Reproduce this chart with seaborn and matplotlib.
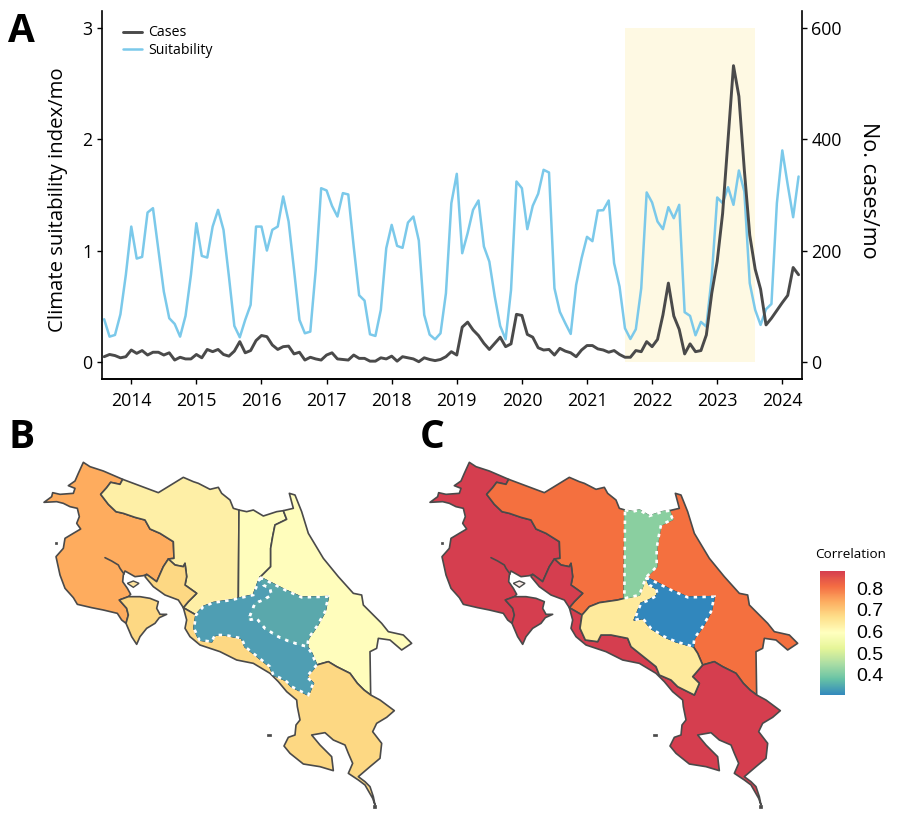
"""Climate suitability and cases time series with two choropleth panels"""
import matplotlib
matplotlib.use("Agg")
import matplotlib.pyplot as plt
import pandas as pd
import seaborn as sns
from matplotlib.cm import ScalarMappable
from matplotlib.colors import Normalize
from matplotlib.patches import Polygon

# monthly series, Aug 2013 - Apr 2024
dates = pd.date_range("2013-08-01", "2024-04-01", freq="MS")
suitability = [
    0.386, 0.23, 0.245, 0.43, 0.784, 1.217, 0.93, 0.945, 1.343, 1.382, 1.008, 0.634,
    0.395, 0.344, 0.23, 0.416, 0.784, 1.247, 0.954, 0.939, 1.217, 1.367, 1.188, 0.769,
    0.326, 0.224, 0.38, 0.515, 1.217, 1.217, 1.002, 1.188, 1.217, 1.487, 1.262, 0.829,
    0.38, 0.26, 0.275, 0.829, 1.561, 1.541, 1.403, 1.307, 1.517, 1.505, 1.038, 0.601,
    0.553, 0.251, 0.236, 0.47, 1.023, 1.232, 1.044, 1.026, 1.253, 1.307, 1.092, 0.425,
    0.248, 0.206, 0.26, 0.619, 1.427, 1.69, 0.978, 1.158, 1.367, 1.451, 1.038, 0.903,
    0.589, 0.326, 0.206, 0.649, 1.621, 1.561, 1.194, 1.403, 1.511, 1.726, 1.702, 0.664,
    0.452, 0.35, 0.254, 0.694, 0.933, 1.125, 1.086, 1.361, 1.364, 1.451, 0.888, 0.679,
    0.305, 0.209, 0.296, 0.664, 1.523, 1.433, 1.262, 1.194, 1.391, 1.292, 1.412, 0.449,
    0.416, 0.242, 0.362, 0.32, 0.769, 1.478, 1.427, 1.57, 1.412, 1.72, 1.532, 0.709,
    0.47, 0.335, 0.476, 0.523, 1.427, 1.9, 1.591, 1.301, 1.666,
]
cases = [
    10, 14, 12, 8, 10, 22, 16, 21, 13, 18, 18, 13,
    17, 4, 9, 6, 6, 14, 8, 23, 19, 23, 14, 11,
    20, 37, 17, 21, 39, 48, 46, 31, 23, 28, 29, 15,
    18, 4, 9, 6, 4, 13, 17, 6, 5, 4, 13, 7,
    7, 2, 2, 8, 6, 11, 2, 10, 8, 6, 1, 8,
    5, 3, 5, 10, 19, 13, 63, 72, 58, 48, 34, 23,
    34, 45, 28, 33, 86, 84, 50, 45, 26, 22, 23, 13,
    25, 20, 17, 10, 22, 30, 30, 24, 22, 18, 21, 14,
    9, 9, 21, 19, 37, 28, 41, 85, 142, 83, 59, 15,
    33, 19, 21, 49, 124, 181, 267, 399, 532, 477, 345, 228,
    167, 131, 67, 79, 93, 107, 120, 170, 157,
]
highlight_start = "2021-08-01"
highlight_end = "2023-08-01"
year_ticks = list(range(2014, 2025))
suit_ticks = [0, 1, 2, 3]
case_ticks = [0, 200, 400, 600]

# region outlines, map units
guanacaste = [
    (160, 37), (180, 50), (220, 63), (278, 88), (270, 103), (242, 97), (230, 113), (212, 133),
    (235, 163), (258, 185), (280, 190), (315, 202), (345, 210), (360, 237), (390, 250), (430, 275),
    (432, 325), (415, 327), (400, 350), (388, 377), (380, 395), (350, 373), (340, 377), (315, 380),
    (285, 363), (280, 375), (278, 395), (292, 415), (302, 433), (295, 440), (268, 450), (290, 475),
    (295, 495), (288, 520), (275, 510), (262, 490), (220, 480), (185, 473), (142, 463), (130, 443),
    (105, 415), (90, 375), (78, 320), (100, 295), (105, 265), (130, 250), (152, 237), (140, 220),
    (148, 200), (142, 175), (120, 170), (100, 160), (80, 155), (42, 157), (65, 140), (68, 128),
    (90, 133), (130, 130), (135, 115), (115, 107), (135, 93), (145, 70),
]
tempisque = [(225, 323), (245, 333), (265, 345), (270, 355), (282, 372)]
nicoya = [
    (268, 450), (295, 440), (330, 440), (360, 445), (385, 455), (380, 475), (390, 493), (410, 493),
    (388, 503), (375, 520), (350, 535), (330, 560), (320, 583), (305, 560), (288, 520), (295, 495),
    (290, 475),
]
gulf_north = [
    (415, 327), (435, 345), (460, 350), (465, 340), (470, 380), (465, 405), (500, 430), (475, 455),
    (460, 473), (445, 450), (405, 435), (370, 410), (345, 380), (350, 373), (380, 395), (388, 377),
    (400, 350),
]
alajuela = [
    (212, 133), (230, 113), (242, 97), (270, 103), (278, 88), (385, 128), (460, 82), (490, 95),
    (505, 100), (540, 118), (565, 112), (575, 130), (600, 150), (610, 175), (627, 180), (625, 445),
    (605, 450), (550, 458), (520, 470), (498, 495), (460, 473), (475, 455), (500, 430), (465, 405),
    (470, 380), (465, 340), (460, 350), (435, 345), (415, 327), (432, 325), (430, 275), (390, 250),
    (360, 237), (345, 210), (315, 202), (280, 190), (258, 185), (235, 163),
]
heredia = [
    (627, 180), (650, 185), (670, 180), (700, 198), (740, 185), (760, 182), (770, 208), (735, 225),
    (728, 260), (722, 295), (722, 350), (690, 382), (670, 435), (625, 445),
]
limon = [
    (760, 182), (790, 175), (778, 130), (795, 135), (815, 185), (835, 250), (880, 325), (925, 380),
    (970, 430), (995, 435), (1000, 465), (1055, 520), (1075, 545), (1120, 555), (1145, 580),
    (1115, 600), (1080, 570), (1045, 565), (1040, 595), (1020, 605), (1022, 735), (1002, 720),
    (982, 700), (960, 670), (920, 650), (895, 635), (860, 645), (845, 610), (832, 590), (835, 565),
    (860, 530), (885, 485), (895, 440), (815, 442), (765, 420), (730, 402), (690, 382), (722, 350),
    (722, 295), (728, 260), (735, 225), (770, 208),
]
cartago = [
    (690, 382), (730, 402), (765, 420), (815, 442), (895, 440), (885, 485), (860, 530), (835, 565),
    (832, 590), (780, 575), (745, 560), (705, 535), (680, 505), (655, 510), (665, 485), (675, 460),
    (700, 450), (725, 435), (720, 415), (700, 405),
]
san_jose = [
    (690, 382), (700, 405), (720, 415), (725, 435), (700, 450), (675, 460), (665, 485), (655, 510),
    (680, 505), (705, 535), (745, 560), (780, 575), (832, 590), (845, 610), (860, 645), (830, 680),
    (850, 700), (835, 735), (785, 710), (765, 690), (730, 675), (720, 650), (670, 610), (645, 590),
    (635, 565), (585, 555), (555, 555), (545, 575), (508, 570), (492, 535), (498, 495), (520, 470),
    (550, 458), (605, 450), (625, 445), (670, 435),
]
puntarenas = [
    (460, 473), (498, 495), (492, 535), (508, 570), (545, 575), (555, 555), (585, 555), (635, 565),
    (645, 590), (670, 610), (720, 650), (730, 675), (765, 690), (785, 710), (835, 735), (850, 700),
    (830, 680), (860, 645), (895, 635), (920, 650), (960, 670), (982, 700), (1002, 720), (1022, 735),
    (1050, 750), (1093, 782), (1070, 802), (1040, 820), (1028, 845), (1055, 880), (1050, 925),
    (1020, 950), (985, 980), (1005, 995), (1020, 1010), (1030, 1040), (1035, 1065), (1028, 1045),
    (1005, 1005), (985, 990), (955, 970), (968, 940), (955, 910), (945, 885), (910, 870), (885, 848),
    (845, 855), (870, 885), (905, 920), (910, 962), (870, 950), (820, 942), (780, 910), (762, 888),
    (775, 862), (795, 855), (798, 825), (810, 810), (802, 770), (800, 750), (770, 725), (745, 695),
    (720, 670), (670, 640), (620, 630), (570, 605), (510, 585), (480, 560), (465, 535), (470, 510),
]
chira = [(292, 400), (310, 393), (327, 400), (310, 412)]
islets = [
    [(712, 853), (722, 853), (722, 859), (712, 859)],
    [(74, 275), (80, 275), (80, 282), (74, 282)],
    [(1028, 1066), (1038, 1066), (1038, 1074), (1028, 1074)],
]

region_shapes = [guanacaste, alajuela, nicoya, gulf_north, heredia, limon, puntarenas, san_jose, cartago]
colors_b = ["#FEAC5E", "#FEEFA6", "#FDD883", "#FDD883", "#FFFDBC", "#FFFDBC", "#FDD883", "#4F9EB3", "#5AA8AC"]
colors_c = ["#D53E4F", "#F4703F", "#D53E4F", "#D53E4F", "#8ACFA0", "#F4703F", "#D53E4F", "#FEEA9C", "#3187BD"]
chira_b = "#FDE3A0"
chira_c = "#FBEDE8"
dotted_b = [7, 8]
dotted_c = [4, 8]

# legend scale
spectral = ["#3288BD", "#66C2A5", "#ABDDA4", "#E6F598", "#FFFFBF", "#FEE08B", "#FDAE61", "#F46D43", "#D53E4F"]
corr_range = (0.306, 0.881)
corr_ticks = [0.4, 0.5, 0.6, 0.7, 0.8]

W, H = 900, 818
EDGE = "#4a4a4a"


def px_axes(fig, left, top, right, bottom):
    return fig.add_axes([left / W, 1 - bottom / H, (right - left) / W, (bottom - top) / H])


def draw_map(ax, colors, dotted, chira_color):
    for shape, color in zip(region_shapes, colors):
        ax.add_patch(Polygon(shape, closed=True, facecolor=color, edgecolor=EDGE, lw=1.2, joinstyle="round"))
    ax.plot(*zip(*tempisque), color=EDGE, lw=1.2)
    ax.add_patch(Polygon(chira, closed=True, facecolor=chira_color, edgecolor=EDGE, lw=1))
    for islet in islets:
        ax.add_patch(Polygon(islet, closed=True, facecolor=EDGE, edgecolor=EDGE, lw=0.5))
    # significant regions get a white dotted outline
    for i in dotted:
        ax.add_patch(Polygon(region_shapes[i], closed=True, facecolor=colors[i], edgecolor=colors[i], lw=1))
        ax.add_patch(Polygon(region_shapes[i], closed=True, fill=False, edgecolor="white", lw=1.9, ls=(0, (1.3, 2))))
    ax.set_xlim(0, 1200)
    ax.set_ylim(1104, 0)
    ax.axis("off")


def main():
    sns.set_theme(style="ticks")
    plt.rcParams["font.family"] = ["Open Sans", "DejaVu Sans"]
    plt.rcParams["text.color"] = "black"
    plt.rcParams["axes.labelcolor"] = "black"

    df = pd.DataFrame({"date": dates, "suitability": suitability, "cases": cases})
    df["year"] = df["date"].dt.year + (df["date"].dt.month - 1) / 12

    fig = plt.figure(figsize=(W / 100, H / 100), dpi=100)

    ax = px_axes(fig, 102.3, 10.7, 801.7, 379)
    start = df.loc[df["date"] == highlight_start, "year"].iloc[0]
    end = df.loc[df["date"] == highlight_end, "year"].iloc[0]
    ax.fill_between([start, end], 0, 3, color="#FEF9E3", lw=0)
    sns.lineplot(data=df, x="year", y="suitability", ax=ax, color="#7BC9EA", lw=1.8, label="Suitability")
    ax.set_xlim(2013.555, 2024.298)
    ax.set_ylim(-0.15, 3.153)
    ax.set_xticks(year_ticks)
    ax.set_yticks(suit_ticks)
    ax.set_xlabel("")
    ax.set_ylabel("Climate suitability index/mo", fontsize=14.7)
    ax.yaxis.set_label_coords(-0.049, 0.486)

    ax2 = ax.twinx()
    sns.lineplot(data=df, x="year", y="cases", ax=ax2, color=EDGE, lw=2.1, label="Cases")
    ax2.set_ylim(-30, 630.6)
    ax2.set_yticks(case_ticks)
    ax2.set_xlabel("")
    ax2.set_ylabel("No. cases/mo", fontsize=15.5, rotation=270)
    ax2.yaxis.set_label_coords(1.111, 0.513)
    ax2.get_legend().remove()
    ax.get_legend().remove()

    for a in (ax, ax2):
        a.spines["top"].set_visible(False)
        for s in ("left", "right", "bottom"):
            a.spines[s].set_linewidth(1.2)
            a.spines[s].set_color("black")
        a.tick_params(labelsize=12.8, length=3.4, width=1, color="black", labelcolor="black")
    ax.tick_params(axis="x", pad=6)
    ax.spines["right"].set_visible(False)
    ax2.spines["left"].set_visible(False)

    handles = ax2.get_lines() + ax.get_lines()
    fig.legend(handles, ["Cases", "Suitability"], loc="upper left", bbox_to_anchor=(123 / W, 1 - 25.5 / H),
               frameon=False, fontsize=10.2, handlelength=1.35, handletextpad=0.45, labelspacing=0.17,
               borderpad=0, borderaxespad=0)

    draw_map(px_axes(fig, 30, 450, 430, 818), colors_b, dotted_b, chira_b)
    draw_map(px_axes(fig, 416, 450, 816, 818), colors_c, dotted_c, chira_c)

    # colour bar
    cax = px_axes(fig, 820, 570.7, 844.7, 695)
    cmap = sns.blend_palette(spectral, as_cmap=True)
    cb = fig.colorbar(ScalarMappable(norm=Normalize(*corr_range), cmap=cmap), cax=cax, ticks=corr_ticks)
    cb.outline.set_visible(False)
    cax.tick_params(direction="in", length=4, width=0.7, color="white", left=True, right=True, pad=8,
                    labelsize=14, labelcolor="black", labelfontfamily="Liberation Sans")
    fig.text(815 / W, 1 - 555 / H, "Correlation", fontsize=9.7, va="center", ha="left")

    for letter, x, y in [("A", 8, 31), ("B", 8, 438), ("C", 420, 438)]:
        fig.text(x / W, 1 - y / H, letter, fontsize=28, fontweight="bold", va="center", ha="left")

    fig.savefig("out.png", dpi=100)


if __name__ == "__main__":
    main()
